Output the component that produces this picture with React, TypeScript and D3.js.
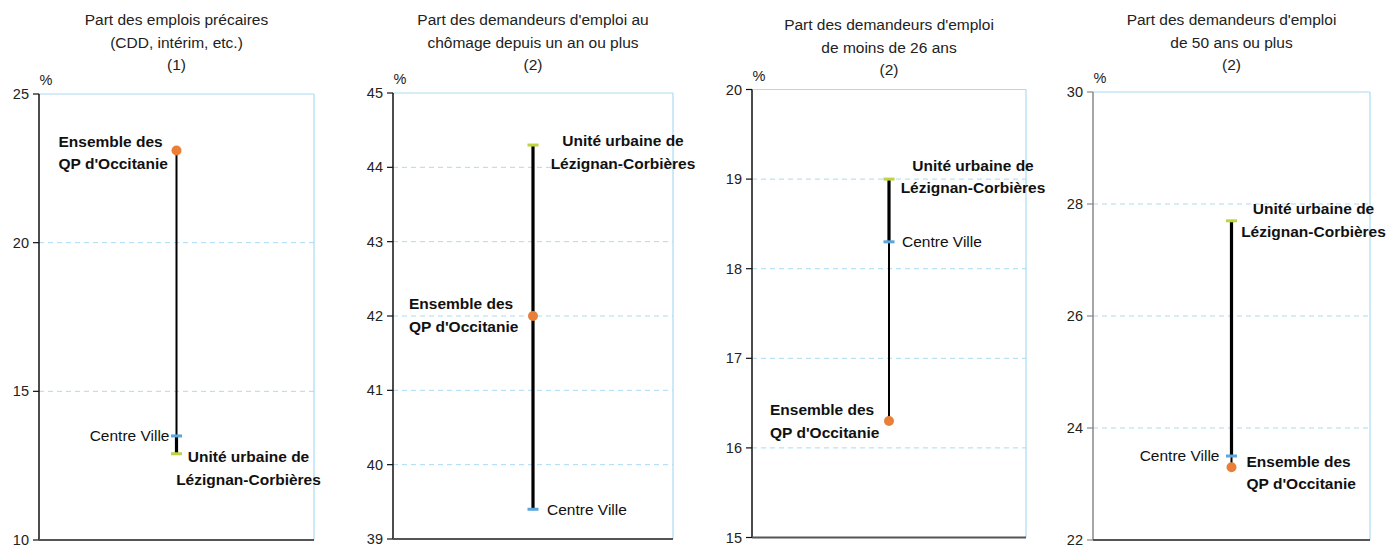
import * as d3 from 'd3';

// Four indicators, each compared on three territories
const titles: string[][] = [
  ['Part des emplois précaires', '(CDD, intérim, etc.)', '(1)'],
  ["Part des demandeurs d'emploi au", 'chômage depuis un an ou plus', '(2)'],
  ["Part des demandeurs d'emploi", 'de moins de 26 ans', '(2)'],
  ["Part des demandeurs d'emploi", 'de 50 ans ou plus', '(2)'],
];
const yMins = [10, 39, 15, 22];
const yMaxs = [25, 45, 20, 30];
const tickCounts = [3, 6, 5, 4];

const ensembleQP = [23.1, 42.0, 16.3, 23.3];
const centreVille = [13.5, 39.4, 18.3, 23.5];
const uniteUrbaine = [12.9, 44.3, 19.0, 27.7];

const seriesNames = {
  ensemble: ['Ensemble des', "QP d'Occitanie"],
  centre: ['Centre Ville'],
  unite: ['Unité urbaine de', 'Lézignan-Corbières'],
};

// panel frames (left axis, right border, plot top/bottom, title baseline shift)
const frames = [
  { left: 39, right: 314, top: 94, bottom: 540, titleY: 20 },
  { left: 393, right: 673, top: 93, bottom: 539, titleY: 20 },
  { left: 752, right: 1026, top: 89.5, bottom: 537.5, titleY: 25 },
  { left: 1093, right: 1370, top: 92, bottom: 540, titleY: 20 },
];

// label placement relative to the mark: anchor, dx, dy of first line
const labelPos = [
  { ens: ['start', -118, -9], cv: ['end', -7, 0], uu: ['middle', 72, 3] },
  { ens: ['start', -124, -12], cv: ['start', 14, 0], uu: ['middle', 90, -4] },
  { ens: ['start', -119, -11], cv: ['start', 13, 0], uu: ['middle', 84, -14] },
  { ens: ['start', 15, -6], cv: ['end', -12, 0], uu: ['middle', 82, -12] },
];

const FONT = '"Liberation Sans", Arial, Helvetica, sans-serif';
const ORANGE = '#e8803a';
const GREEN = '#bfd440';
const BLUE = '#5ba7dc';
const GRID = '#a9dbf3';

function Label({ x, y, lines, anchor, bold }: any) {
  return (
    <text
      x={x}
      y={y}
      textAnchor={anchor}
      fontFamily={FONT}
      fontSize={15.5}
      fontWeight={bold ? 'bold' : 'normal'}
      fill="#111"
    >
      {lines.map((l: string, i: number) => (
        <tspan key={i} x={x} dy={i === 0 ? '0.35em' : 22.5}>
          {l}
        </tspan>
      ))}
    </text>
  );
}

function Panel({ i }: { i: number }) {
  const f = frames[i];
  const y = d3.scaleLinear().domain([yMins[i], yMaxs[i]]).range([f.bottom, f.top]);
  const x = d3.scalePoint<string>().domain(['v']).range([f.left, f.right]).padding(0.5);
  const cx = x('v') as number;
  const ticks = y.ticks(tickCounts[i]);
  const vals = [ensembleQP[i], centreVille[i], uniteUrbaine[i]];
  const lp = labelPos[i];
  const axisColor = i === 3 ? '#888' : '#111';
  const titleCx = (f.left + f.right) / 2;

  return (
    <g>
      {titles[i].map((t, k) => (
        <text
          key={k}
          x={titleCx}
          y={f.titleY + k * 22.5}
          dy="0.35em"
          textAnchor="middle"
          fontFamily={FONT}
          fontSize={15.5}
          fill="#222"
        >
          {t}
        </text>
      ))}
      <text x={f.left + 7} y={f.top - 14} dy="0.35em" textAnchor="middle" fontFamily={FONT} fontSize={14.5} fill="#222">
        %
      </text>

      {/* grid */}
      {ticks
        .filter((t) => t !== yMins[i] && t !== yMaxs[i])
        .map((t) => (
          <line key={t} x1={f.left} x2={f.right} y1={y(t)} y2={y(t)} stroke={GRID} strokeWidth={1} strokeDasharray="5,4" />
        ))}
      <line x1={f.left} x2={f.right} y1={f.top} y2={f.top} stroke={GRID} strokeWidth={1} />
      <line x1={f.right} x2={f.right} y1={f.top} y2={f.bottom} stroke={GRID} strokeWidth={1.2} />

      {/* axes */}
      <line x1={f.left} x2={f.left} y1={f.top} y2={f.bottom} stroke={axisColor} strokeWidth={1.5} />
      <line x1={f.left} x2={f.right} y1={f.bottom} y2={f.bottom} stroke="#555" strokeWidth={2} />
      {ticks.map((t) => (
        <g key={t}>
          <line x1={f.left - 6} x2={f.left} y1={y(t)} y2={y(t)} stroke={axisColor} strokeWidth={1.2} />
          <text x={f.left - 10} y={y(t)} dy="0.35em" textAnchor="end" fontFamily={FONT} fontSize={14.5} fill="#222">
            {t}
          </text>
        </g>
      ))}

      {/* range line */}
      <line x1={cx} x2={cx} y1={y(d3.max(vals)!)} y2={y(d3.min(vals)!)} stroke="#000" strokeWidth={2} />
      <line x1={cx} x2={cx} y1={y(uniteUrbaine[i])} y2={y(centreVille[i])} stroke="#000" strokeWidth={3.2} />

      {/* marks */}
      <rect x={cx - 5.5} y={y(uniteUrbaine[i]) - 1.5} width={11} height={3} fill={GREEN} />
      <rect x={cx - 5.5} y={y(centreVille[i]) - 1.5} width={11} height={3} fill={BLUE} />
      <circle cx={cx} cy={y(ensembleQP[i])} r={5} fill={ORANGE} />

      {/* labels */}
      <Label x={cx + (lp.ens[1] as number)} y={y(ensembleQP[i]) + (lp.ens[2] as number)} lines={seriesNames.ensemble} anchor={lp.ens[0]} bold />
      <Label x={cx + (lp.cv[1] as number)} y={y(centreVille[i]) + (lp.cv[2] as number)} lines={seriesNames.centre} anchor={lp.cv[0]} />
      <Label x={cx + (lp.uu[1] as number)} y={y(uniteUrbaine[i]) + (lp.uu[2] as number)} lines={seriesNames.unite} anchor={lp.uu[0]} bold />
    </g>
  );
}

export default function App() {
  return (
    <svg width={1390} height={546} style={{ position: 'absolute', left: 0, top: 0, background: '#fff' }}>
      {titles.map((_, i) => (
        <Panel key={i} i={i} />
      ))}
    </svg>
  );
}
